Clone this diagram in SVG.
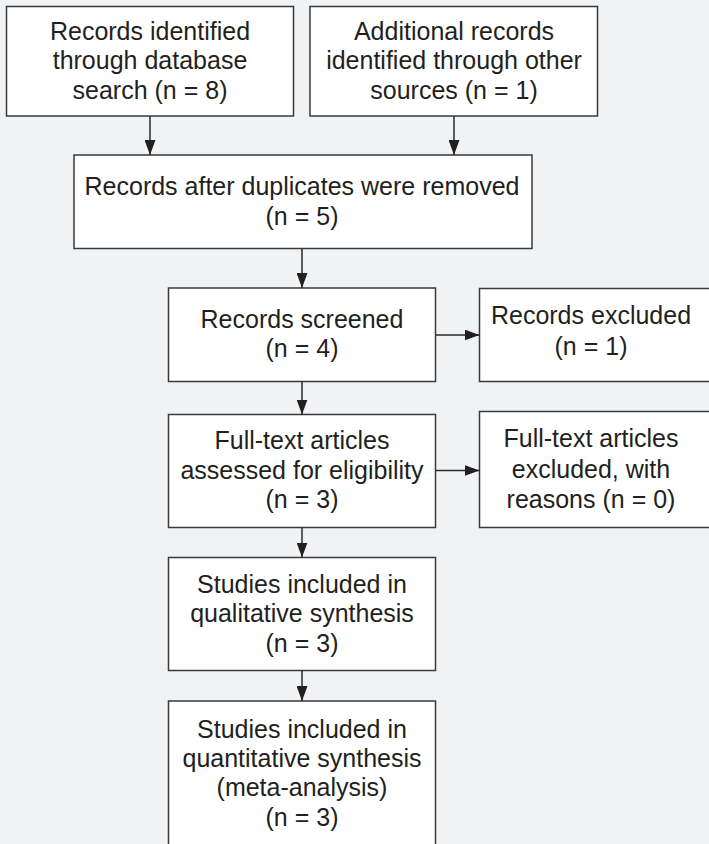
<svg xmlns="http://www.w3.org/2000/svg" width="709" height="844" viewBox="0 0 709 844">
<style>
.box{fill:#ffffff;stroke:#3a3a3a;stroke-width:1.5}
.t{font-family:"Liberation Sans",Arial,sans-serif;font-size:25px;fill:#231f20;text-anchor:middle}
.c{stroke:#2a2a2a;stroke-width:1.5;fill:none}
</style>
<defs>
<marker id="ah" viewBox="0 0 15 11" refX="15" refY="5.5" markerWidth="15" markerHeight="11" markerUnits="userSpaceOnUse" orient="auto">
<path d="M0,0 L15,5.5 L0,11 Z" fill="#231f20"/>
</marker>
</defs>
<rect width="709" height="844" fill="#f1f2f4"/>
<g id="n1">
<rect class="box" x="6.5" y="6.5" width="287" height="109.5"/>
<text class="t" x="150" y="39.5">Records identified</text>
<text class="t" x="150" y="69">through database</text>
<text class="t" x="150" y="98.5">search (n = 8)</text>
</g>
<g id="n2">
<rect class="box" x="310" y="6.5" width="287.5" height="109.5"/>
<text class="t" x="454" y="39.5">Additional records</text>
<text class="t" x="454" y="69">identified through other</text>
<text class="t" x="454" y="98.5">sources (n = 1)</text>
</g>
<g id="n3">
<rect class="box" x="74" y="155" width="458" height="93.5"/>
<text class="t" x="302" y="195">Records after duplicates were removed</text>
<text class="t" x="302" y="224.5">(n = 5)</text>
</g>
<g id="n4">
<rect class="box" x="168.5" y="288" width="267" height="93.5"/>
<text class="t" x="302" y="328">Records screened</text>
<text class="t" x="302" y="357">(n = 4)</text>
</g>
<g id="n5">
<rect class="box" x="479.5" y="288.5" width="240" height="93"/>
<text class="t" x="591" y="324">Records excluded</text>
<text class="t" x="591" y="355">(n = 1)</text>
</g>
<g id="n6">
<rect class="box" x="168.5" y="414.5" width="267" height="113"/>
<text class="t" x="302" y="449">Full-text articles</text>
<text class="t" x="302" y="478.5">assessed for eligibility</text>
<text class="t" x="302" y="508">(n = 3)</text>
</g>
<g id="n7">
<rect class="box" x="479.5" y="411.5" width="240" height="116"/>
<text class="t" x="591" y="447">Full-text articles</text>
<text class="t" x="591" y="477.5">excluded, with</text>
<text class="t" x="591" y="507.5">reasons (n = 0)</text>
</g>
<g id="n8">
<rect class="box" x="168.5" y="557.5" width="267" height="113"/>
<text class="t" x="302" y="592.5">Studies included in</text>
<text class="t" x="302" y="622">qualitative synthesis</text>
<text class="t" x="302" y="651.5">(n = 3)</text>
</g>
<g id="n9">
<rect class="box" x="168.5" y="701" width="267" height="160"/>
<text class="t" x="302" y="737.5">Studies included in</text>
<text class="t" x="302" y="767">quantitative synthesis</text>
<text class="t" x="302" y="796">(meta-analysis)</text>
<text class="t" x="302" y="825.5">(n = 3)</text>
</g>
<g id="connectors">
<line class="c" x1="150" y1="116" x2="150" y2="155" marker-end="url(#ah)"/>
<line class="c" x1="454" y1="116" x2="454" y2="155" marker-end="url(#ah)"/>
<line class="c" x1="302" y1="248.5" x2="302" y2="288" marker-end="url(#ah)"/>
<line class="c" x1="435.5" y1="335" x2="479.5" y2="335" marker-end="url(#ah)"/>
<line class="c" x1="302" y1="381.5" x2="302" y2="414.5" marker-end="url(#ah)"/>
<line class="c" x1="435.5" y1="470.5" x2="479.5" y2="470.5" marker-end="url(#ah)"/>
<line class="c" x1="302" y1="527.5" x2="302" y2="557.5" marker-end="url(#ah)"/>
<line class="c" x1="302" y1="670.5" x2="302" y2="701" marker-end="url(#ah)"/>
</g>
</svg>
